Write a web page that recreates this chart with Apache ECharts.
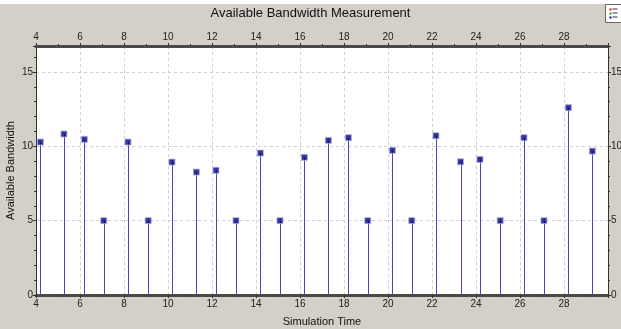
<!DOCTYPE html>
<html><head><meta charset="utf-8">
<script src="https://cdn.jsdelivr.net/npm/echarts@6/dist/echarts.min.js"></script>
<style>html,body{margin:0;padding:0;background:#d4d0c8;}#c{width:621px;height:329px;}</style>
</head><body><div id="c"></div>
<script>
const titleText = 'Available Bandwidth Measurement';
const xName = 'Simulation Time';
const yName = 'Available Bandwidth';
const simTime = [4.20, 5.27, 6.20, 7.08, 8.18, 9.10, 10.18, 11.29, 12.18, 13.09, 14.20, 15.09, 16.20,
                 17.29, 18.20, 19.08, 20.20, 21.08, 22.18, 23.30, 24.18, 25.10, 26.18, 27.09, 28.20, 29.29];
const bandwidth = [10.29, 10.83, 10.47, 5, 10.29, 5, 8.94, 8.27, 8.39, 5, 9.55, 5, 9.26,
                   10.4, 10.58, 5, 9.73, 5, 10.71, 8.96, 9.12, 5, 10.58, 5, 12.6, 9.68];
const xMin = 4, xMax = 30, xStep = 2;
const yMin = 0, yMax = 16.75, yStep = 5;

const pts = simTime.map((t, i) => [t, bandwidth[i]]);
const chart = echarts.init(document.getElementById('c'));
const lblFont = {fontFamily: 'Liberation Sans', fontSize: 10, color: '#222'};
function xAx(pos, showName) {
  return {
    type: 'value', position: pos, min: xMin, max: xMax, interval: xStep,
    name: showName ? xName : '', nameLocation: 'middle', nameGap: 21,
    nameTextStyle: {fontFamily: 'Liberation Sans', fontSize: 11, color: '#111'},
    axisLine: {show: true, onZero: false, lineStyle: {color: '#4a4a4a', width: 3}},
    axisTick: {show: true, length: 3, lineStyle: {color: '#333'}},
    minorTick: {show: true, splitNumber: 2, length: 2, lineStyle: {color: '#333'}},
    axisLabel: Object.assign({margin: 4, showMaxLabel: false}, lblFont),
    splitLine: {show: pos === 'bottom', lineStyle: {color: '#d0d0d0', type: [3, 3]}}
  };
}
function yAx(pos, showName) {
  return {
    type: 'value', position: pos, min: yMin, max: yMax, interval: yStep,
    name: showName ? yName : '', nameLocation: 'middle', nameGap: 20, nameMoveOverlap: false,
    nameTextStyle: {fontFamily: 'Liberation Sans', fontSize: 11, color: '#111'},
    axisLine: {show: true, onZero: false, lineStyle: {color: '#333', width: 1}},
    axisTick: {show: true, length: 3, lineStyle: {color: '#333'}},
    minorTick: {show: true, splitNumber: 5, length: 2, lineStyle: {color: '#333'}},
    axisLabel: Object.assign({margin: 3, showMaxLabel: false}, lblFont),
    splitLine: {show: pos === 'left', lineStyle: {color: '#d0d0d0', type: [3, 3]}}
  };
}
chart.setOption({
  backgroundColor: '#d4d0c8',
  animation: false,
  title: {text: titleText, left: 'center', top: 2,
    textStyle: {fontFamily: 'Liberation Sans', fontSize: 13, fontWeight: 'normal', color: '#111'}},
  grid: {left: 36, right: 13, top: 46, bottom: 34, show: true, backgroundColor: '#fff', borderWidth: 0,
    containLabel: false, outerBoundsMode: 'none'},
  xAxis: [xAx('bottom', true), xAx('top', false)],
  yAxis: [yAx('left', true), yAx('right', false)],
  graphic: [
    {type: 'rect', shape: {x: 0, y: 0, width: 621, height: 4}, style: {fill: '#fff'}},
    {type: 'group', left: 605, top: 4, children: [
      {type: 'rect', shape: {x: 0, y: 0, width: 16, height: 18}, style: {fill: '#fff', stroke: '#666', lineWidth: 1}},
      {type: 'rect', shape: {x: 4, y: 4, width: 2, height: 2}, style: {fill: '#e00'}},
      {type: 'rect', shape: {x: 7, y: 4, width: 5, height: 1}, style: {fill: '#333'}},
      {type: 'rect', shape: {x: 4, y: 8, width: 2, height: 2}, style: {fill: '#0b0'}},
      {type: 'rect', shape: {x: 7, y: 8, width: 5, height: 1}, style: {fill: '#333'}},
      {type: 'rect', shape: {x: 4, y: 12, width: 2, height: 2}, style: {fill: '#00e'}},
      {type: 'rect', shape: {x: 7, y: 12, width: 5, height: 1}, style: {fill: '#333'}}
    ]}
  ],
  series: [
    {type: 'custom', data: pts, clip: false,
      renderItem: function (params, api) {
        const top = api.coord([api.value(0), api.value(1)]);
        const bot = api.coord([api.value(0), 0]);
        const x = Math.round(top[0]);
        return {type: 'rect', shape: {x: x, y: top[1], width: 1, height: bot[1] - top[1]},
          style: {fill: '#4646bc'}};
      }},
    {type: 'scatter', data: pts, symbol: 'rect', symbolSize: 6,
      itemStyle: {color: '#000080', borderColor: '#b0b0dc', borderWidth: 1}, z: 5}
  ]
});
</script></body></html>
